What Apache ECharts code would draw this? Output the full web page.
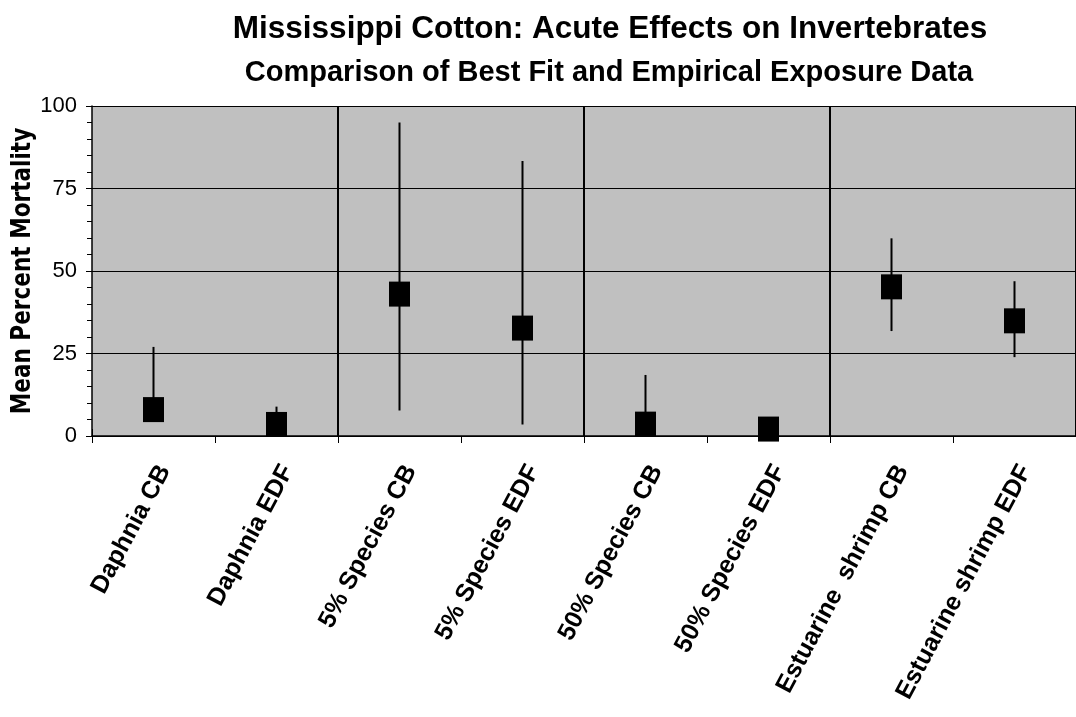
<!DOCTYPE html>
<html>
<head>
<meta charset="utf-8">
<script src="https://cdn.jsdelivr.net/npm/echarts@6/dist/echarts.min.js"></script>
<style>html,body{margin:0;padding:0;background:#fff}#c{width:1076px;height:717px}</style>
</head>
<body>
<div id="c"></div>
<script>
var categories = ['Daphnia CB','Daphnia EDF','5% Species CB','5% Species EDF','50% Species CB','50% Species EDF','Estuarine  shrimp CB','Estuarine shrimp EDF'];
var means = [8, 3.5, 43, 32.7, 3.6, 2.1, 45.2, 34.9];
var highs = [27, 8.9, 95, 83.3, 18.5, 2.1, 59.9, 46.9];
var lows = [5, 2, 7.7, 3.5, 2, 1, 31.8, 23.9];
var yTicks = [0, 25, 50, 75, 100];
var titleText = 'Mississippi Cotton: Acute Effects on Invertebrates';
var subtitleText = 'Comparison of Best Fit and Empirical Exposure Data';
var yName = 'Mean Percent Mortality';

var chart = echarts.init(document.getElementById('c'), null, {renderer: 'canvas'});
var errData = categories.map(function (c, i) { return [i, lows[i], highs[i]]; });
var meanData = categories.map(function (c, i) { return [i, means[i]]; });

chart.setOption({
  animation: false,
  backgroundColor: '#ffffff',
  graphic: [
    {type: 'text', x: 610, y: 29, style: {text: titleText, font: 'bold 31.5px "Liberation Sans", Arial, sans-serif', fill: '#000', textAlign: 'center', textVerticalAlign: 'middle'}},
    {type: 'text', x: 609, y: 73, style: {text: subtitleText, font: 'bold 29px "Liberation Sans", Arial, sans-serif', fill: '#000', textAlign: 'center', textVerticalAlign: 'middle'}},
    {type: 'text', x: 23, y: 271, rotation: Math.PI / 2, scaleX: 0.8, scaleY: 1,
      style: {text: yName, font: 'bold 27px "DejaVu Sans", sans-serif', fill: '#000', textAlign: 'center', textVerticalAlign: 'middle'}}
  ],
  grid: {left: 92, top: 106, right: -3, bottom: 281, show: true, backgroundColor: '#c0c0c0', borderWidth: 0},
  xAxis: [{
    type: 'category', data: categories, boundaryGap: true,
    axisLine: {show: true, lineStyle: {color: '#000', width: 1.5}},
    axisTick: {show: true, alignWithLabel: false, length: 7, lineStyle: {color: '#000'}},
    axisLabel: {interval: 0, rotate: 62, fontSize: 25, fontWeight: 'bold', color: '#000', fontFamily: '"Liberation Sans", Arial, sans-serif', margin: 25, verticalAlign: 'top'},
    splitLine: {show: true, interval: function (index) { return index === 2 || index === 4 || index === 6; }, lineStyle: {color: '#000', width: 2}}
  }, {
    type: 'category', data: categories, boundaryGap: true, position: 'bottom',
    axisLine: {show: false}, axisLabel: {show: false}, splitLine: {show: false},
    axisTick: {show: true, inside: true, alignWithLabel: false, length: 7, lineStyle: {color: '#000'}}
  }],
  yAxis: {
    type: 'value', min: 0, max: 100, interval: 25,
    axisLine: {show: true, lineStyle: {color: '#000', width: 1.5}},
    axisTick: {show: true, length: 6, lineStyle: {color: '#000'}},
    minorTick: {show: true, splitNumber: 5, length: 5, lineStyle: {color: '#000'}},
    axisLabel: {fontSize: 22, color: '#000', margin: 15, fontFamily: '"Liberation Sans", Arial, sans-serif',
      formatter: function (v) { return yTicks.indexOf(v) >= 0 ? String(v) : ''; }},
    splitLine: {show: true, lineStyle: {color: '#000', width: 1.2}}
  },
  series: [{
    type: 'custom',
    data: errData,
    renderItem: function (params, api) {
      var p1 = api.coord([api.value(0), api.value(1)]);
      var p2 = api.coord([api.value(0), api.value(2)]);
      return {type: 'line', shape: {x1: p1[0], y1: p1[1], x2: p2[0], y2: p2[1]}, style: {stroke: '#000', lineWidth: 2}};
    },
    z: 3
  }, {
    type: 'scatter',
    data: meanData,
    symbol: 'rect',
    symbolSize: [21, 25],
    itemStyle: {color: '#000', opacity: 1},
    z: 4
  }]
});
</script>
</body>
</html>
